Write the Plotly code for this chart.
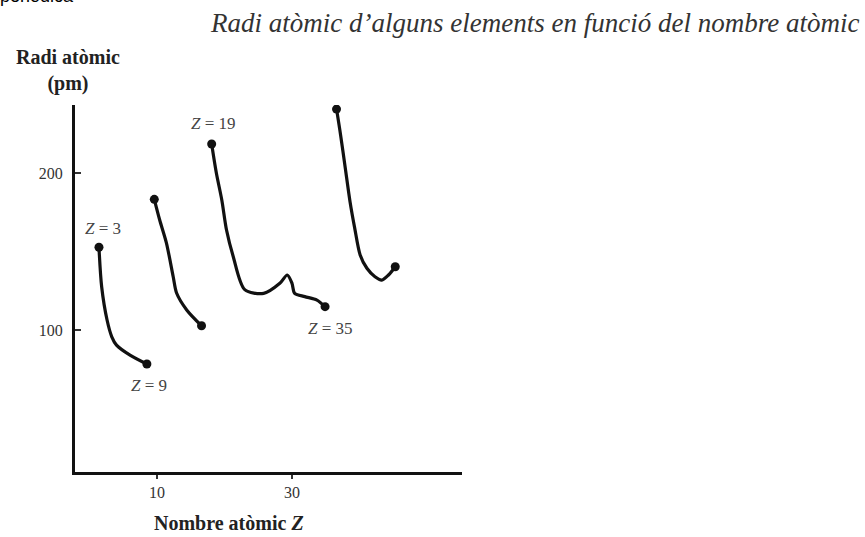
import plotly.graph_objects as go

# Data (axis units: x = atomic number axis, y = radius in pm)
period2_z = [1.4, 1.8, 2.6, 3.3, 4.0, 6.0, 8.5]
period2_r = [152.8, 127.6, 106.4, 95.7, 90.4, 84.0, 78.3]

period3_z = [9.6, 10.4, 11.4, 12.4, 12.9, 14.4, 16.6]
period3_r = [183.4, 170.2, 155.5, 134.0, 123.6, 112.8, 102.7]

period4_z = [18.1, 18.8, 19.6, 20.3, 21.3, 23.0, 25.8, 28.2, 29.3, 30.0, 30.4, 31.9, 33.7, 34.9]
period4_r = [218.7, 200.0, 183.0, 163.8, 146.8, 125.8, 123.4, 129.8, 135.1, 129.8, 123.4, 121.3, 119.1, 114.9]

period5_z = [36.6, 37.2, 37.9, 38.6, 39.3, 40.1, 41.1, 42.3, 43.3, 44.3, 45.3]
period5_r = [241.0, 224.5, 203.2, 181.9, 164.9, 147.9, 139.4, 134.0, 131.9, 135.1, 140.4]

x_tickvals = [10, 30]
y_tickvals = [100, 200]

W, H = 865, 537
L, R, T, B = 75, 403, 105, 65
PW, PH = W - L - R, H - T - B


def xp(px):
    return (px - L) / PW


def yp(py):
    return (H - B - py) / PH


SERIF = "Liberation Serif"
fig = go.Figure()

for zs, rs in [(period2_z, period2_r), (period3_z, period3_r),
               (period4_z, period4_r), (period5_z, period5_r)]:
    fig.add_trace(go.Scatter(
        x=zs, y=rs, mode="lines",
        line=dict(color="#111111", width=3.2, shape="spline", smoothing=0.8),
        hoverinfo="skip", showlegend=False))
    fig.add_trace(go.Scatter(
        x=[zs[0], zs[-1]], y=[rs[0], rs[-1]], mode="markers",
        marker=dict(color="#111111", size=9),
        hoverinfo="skip", showlegend=False))

annotations = [
    dict(text="<i>Radi atòmic d’alguns elements en funció del nombre atòmic</i>",
         x=xp(861), y=yp(23), xanchor="right", yanchor="middle",
         font=dict(family=SERIF, size=27, color="#333333")),
    dict(text="periòdica", x=xp(-2), y=yp(-4), xanchor="left", yanchor="middle",
         font=dict(family="Liberation Sans", size=18, color="#000000")),
    dict(text="<b>Radi atòmic</b><br><b>(pm)</b>", x=xp(68), y=yp(70), xanchor="center",
         yanchor="middle", align="center",
         font=dict(family=SERIF, size=20, color="#222222")),
    dict(text="<b>Nombre atòmic <i>Z</i></b>", x=xp(229), y=yp(523), xanchor="center", yanchor="middle",
         font=dict(family=SERIF, size=20, color="#222222")),
    dict(text="<i>Z</i> = 3", x=xp(102.7), y=yp(228.3), xanchor="center", yanchor="middle",
         font=dict(family=SERIF, size=17, color="#444444")),
    dict(text="<i>Z</i> = 9", x=xp(149.3), y=yp(385), xanchor="center", yanchor="middle",
         font=dict(family=SERIF, size=17, color="#444444")),
    dict(text="<i>Z</i> = 19", x=xp(213.3), y=yp(123.3), xanchor="center", yanchor="middle",
         font=dict(family=SERIF, size=17, color="#444444")),
    dict(text="<i>Z</i> = 35", x=xp(330), y=yp(328.3), xanchor="center", yanchor="middle",
         font=dict(family=SERIF, size=17, color="#444444")),
]
for a in annotations:
    a.update(xref="paper", yref="paper", showarrow=False)

fig.update_layout(
    width=W, height=H,
    margin=dict(l=L, r=R, t=T, b=B, pad=0),
    paper_bgcolor="white", plot_bgcolor="white",
    annotations=annotations,
    xaxis=dict(range=[-2.15, 55.19], showgrid=False, zeroline=False,
               showline=True, linecolor="#111111", linewidth=3,
               tickvals=x_tickvals, ticks="outside", ticklen=4, tickwidth=1.5,
               tickcolor="#333333",
               tickfont=dict(family=SERIF, size=16, color="#333333")),
    yaxis=dict(range=[9.4, 243.6], showgrid=False, zeroline=False,
               showline=True, linecolor="#111111", linewidth=3,
               tickvals=y_tickvals, ticks="inside", ticklen=6, tickwidth=1.5,
               tickcolor="#333333", ticklabelstandoff=6,
               tickfont=dict(family=SERIF, size=16, color="#333333")),
)

fig.write_html("out.html", config={"displayModeBar": False},
               post_script="document.body.style.margin='0';document.body.style.overflow='hidden';")
